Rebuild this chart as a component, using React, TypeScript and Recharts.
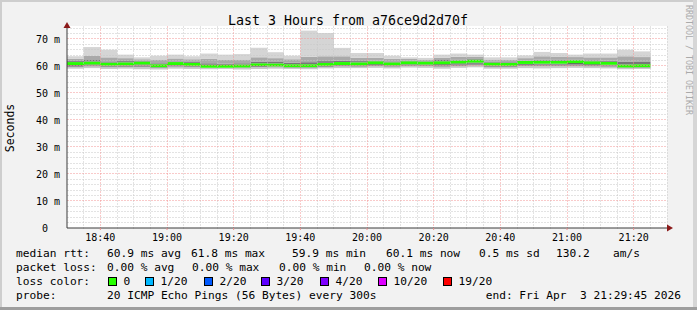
import React from 'react';
import { ComposedChart, Bar, XAxis, YAxis, CartesianGrid, ReferenceLine, ReferenceDot } from 'recharts';

// 5 minute slots from 18:30 to 21:25, the last one has no data yet
const slotTimes = [
  '18:30', '18:35', '18:40', '18:45', '18:50', '18:55', '19:00', '19:05', '19:10', '19:15', '19:20', '19:25',
  '19:30', '19:35', '19:40', '19:45', '19:50', '19:55', '20:00', '20:05', '20:10', '20:15', '20:20', '20:25',
  '20:30', '20:35', '20:40', '20:45', '20:50', '20:55', '21:00', '21:05', '21:10', '21:15', '21:20', '21:25',
];

// median rtt per slot (ms)
const medianRtt = [
  60.9, 61.1, 60.7, 60.8, 61.1, 60.1, 60.9, 60.6, 59.9, 59.9, 60.0, 60.5,
  60.4, 60.1, 60.1, 60.6, 60.9, 60.8, 61.2, 60.8, 61.2, 61.1, 61.2, 61.5,
  61.8, 60.7, 60.6, 61.3, 61.4, 61.4, 61.6, 61.2, 61.0, 60.0, 60.1, null,
];

// smoke: spread of the 20 pings in each slot (ms)
const smokeMin = [
  59.0, 59.2, 58.9, 59.0, 58.8, 58.7, 59.0, 58.9, 58.8, 58.9, 58.7, 58.9,
  59.0, 58.9, 58.8, 59.1, 59.2, 59.2, 59.3, 59.1, 59.4, 59.3, 59.0, 59.3,
  59.5, 59.0, 59.0, 59.2, 59.1, 59.2, 59.3, 59.2, 59.1, 58.8, 58.9, null,
];
const smokeLow = [
  59.6, 59.8, 59.5, 59.6, 59.6, 59.2, 59.7, 59.5, 59.2, 59.3, 59.2, 59.5,
  59.5, 59.3, 59.3, 59.6, 59.8, 59.7, 59.9, 59.7, 60.0, 59.9, 59.7, 59.9,
  60.2, 59.5, 59.5, 59.9, 59.9, 59.9, 60.0, 59.8, 59.7, 59.2, 59.3, null,
];
const smokeQ1 = [
  60.1, 60.3, 60.0, 60.1, 60.3, 59.5, 60.2, 59.9, 59.4, 59.4, 59.4, 59.8,
  59.8, 59.5, 59.5, 59.9, 60.2, 60.1, 60.4, 60.1, 60.5, 60.4, 60.4, 60.6,
  60.9, 60.0, 59.9, 60.5, 60.6, 60.6, 60.7, 60.4, 60.3, 59.4, 59.5, null,
];
const smokeQ3 = [
  61.8, 62.2, 61.7, 61.8, 61.9, 61.0, 61.7, 61.5, 61.0, 60.8, 61.0, 61.6,
  61.5, 61.2, 61.4, 61.8, 62.0, 61.8, 62.0, 61.7, 61.9, 61.8, 62.2, 62.4,
  62.6, 61.6, 61.4, 62.0, 62.3, 62.4, 62.4, 62.1, 62.0, 61.6, 61.5, null,
];
const smokeHigh = [
  62.7, 63.8, 63.2, 62.9, 62.5, 62.4, 62.8, 62.5, 62.6, 62.2, 62.4, 63.2,
  62.9, 62.5, 63.4, 63.6, 63.6, 63.0, 63.0, 62.7, 62.6, 62.4, 63.1, 63.4,
  63.4, 62.4, 62.2, 62.9, 63.6, 63.5, 63.3, 63.2, 63.2, 63.6, 63.3, null,
];
const smokeMax = [
  63.6, 67.0, 66.0, 64.2, 63.2, 63.8, 64.2, 63.6, 64.6, 64.2, 64.4, 66.7,
  65.1, 63.8, 73.1, 72.2, 66.7, 64.8, 64.8, 63.8, 63.2, 63.0, 64.2, 64.6,
  64.2, 63.2, 63.2, 63.9, 65.2, 64.8, 64.2, 64.6, 64.6, 66.0, 65.4, null,
];

const timeTickLabels = ['18:40', '19:00', '19:20', '19:40', '20:00', '20:20', '20:40', '21:00', '21:20'];
const yTicks = [0, 10, 20, 30, 40, 50, 60, 70];

const rttSummary = ['60.9 ms avg', '61.8 ms max', '59.9 ms min', '60.1 ms now', '0.5 ms sd', '130.2', 'am/s'];
const lossSummary = ['0.00 % avg', '0.00 % max', '0.00 % min', '0.00 % now'];
const lossLabels = ['0', '1/20', '2/20', '3/20', '4/20', '10/20', '19/20'];
const lossColors = ['#26ff00', '#00b8ff', '#0059ff', '#5e00ff', '#7e00ff', '#dd00ff', '#ff0000'];

const MONO = '"DejaVu Sans Mono", monospace';
const HALF_LINE = 0.55; // half thickness of the median line, in ms
const SLOT = 5; // minutes per slot
const SPAN = 180; // minutes shown

// minutes since the start of the graph (18:30)
const toMin = (t: string) => {
  const [h, m] = t.split(':').map(Number);
  return h * 60 + m - (18 * 60 + 30);
};
const timeTickMinutes = timeTickLabels.map(toMin);

const data = slotTimes.map((slot, i) => {
  const mid = toMin(slot) + SLOT / 2;
  const med = medianRtt[i];
  if (med == null) return { mid };
  const lv = [
    smokeMin[i] as number,
    smokeLow[i] as number,
    Math.min(smokeQ1[i] as number, med - HALF_LINE),
    med - HALF_LINE,
    med + HALF_LINE,
    Math.max(smokeQ3[i] as number, med + HALF_LINE),
    smokeHigh[i] as number,
    smokeMax[i] as number,
  ];
  for (let k = 1; k < lv.length; k++) lv[k] = Math.max(lv[k], lv[k - 1]);
  return {
    mid,
    base: lv[0],
    outerLo: lv[1] - lv[0],
    midLo: lv[2] - lv[1],
    innerLo: lv[3] - lv[2],
    median: lv[4] - lv[3],
    innerHi: lv[5] - lv[4],
    midHi: lv[6] - lv[5],
    outerHi: lv[7] - lv[6],
  };
});

const bands = [
  { key: 'base', fill: 'transparent' },
  { key: 'outerLo', fill: '#c8c8c8' },
  { key: 'midLo', fill: '#969696' },
  { key: 'innerLo', fill: '#4e4e4e' },
  { key: 'median', fill: lossColors[0] },
  { key: 'innerHi', fill: '#777777' },
  { key: 'midHi', fill: '#a9a9a9' },
  { key: 'outerHi', fill: '#d5d5d5' },
];

// grid positions
const minorX: number[] = [];
for (let m = 5; m <= SPAN; m += 5) if (!timeTickMinutes.includes(m)) minorX.push(m);
const minorY: number[] = [];
for (let v = 2; v <= 74; v += 2) if (v % 10 !== 0) minorY.push(v);
const majorY = yTicks.filter((v) => v > 0);

// dotted grid line snapped to whole pixels so it stays sharp
const snap = (v: number) => Math.floor(v) + 0.5;
const gridLine = (color: string) => (p: any) => (
  <line
    x1={snap(p.x1)}
    y1={snap(p.y1)}
    x2={snap(p.x2)}
    y2={snap(p.y2)}
    stroke={color}
    strokeWidth={1}
    strokeDasharray="1 2"
  />
);
const minorShape = gridLine('#c6c6c6');
const majorShape = gridLine('#f29494');

const upArrow = (p: any) => (
  <path d={`M${p.cx - 3.5},${p.cy + 4} L${p.cx},${p.cy - 2} L${p.cx + 3.5},${p.cy + 4} Z`} fill="#8b1a1a" />
);
const rightArrow = (p: any) => (
  <path d={`M${p.cx - 3},${p.cy - 3.5} L${p.cx + 3},${p.cy} L${p.cx - 3},${p.cy + 3.5} Z`} fill="#8b1a1a" />
);

const rttCols = [107, 191, 292, 386, 479, 556, 613];
const lossCols = [107, 192, 279, 364];
const boxCols = [108, 145, 204, 261, 320, 378, 443];

export default function App() {
  return (
    <div style={{ position: 'absolute', left: 0, top: 0, width: 697, height: 310, background: '#f2f2f2' }}>
      <ComposedChart
        width={697}
        height={310}
        data={data}
        margin={{ top: 26, right: 30, bottom: 62, left: 0 }}
        barCategoryGap={0}
        barGap={0}
      >
        <CartesianGrid horizontal={false} vertical={false} fill="#ffffff" />
        <XAxis
          dataKey="mid"
          type="number"
          domain={[0, SPAN]}
          allowDataOverflow
          ticks={timeTickMinutes}
          tickFormatter={(v: number) => timeTickLabels[timeTickMinutes.indexOf(v)] ?? ''}
          height={20}
          axisLine={{ stroke: '#3a3a3a' }}
          tickLine={{ stroke: '#e89090' }}
          tickSize={2}
          tickMargin={4}
          tick={{ fontSize: 10, fill: '#000', fontFamily: MONO }}
        />
        <YAxis
          type="number"
          domain={[0, 74.8]}
          allowDataOverflow
          ticks={yTicks}
          width={67}
          tickFormatter={(v: number) => (v === 0 ? '0\u00a0\u00a0' : `${v} m`)}
          axisLine={{ stroke: '#3a3a3a' }}
          tickLine={false}
          tickSize={3}
          tickMargin={4}
          tick={{ fontSize: 10, fill: '#000', fontFamily: MONO }}
        />
        {bands.map((b) => (
          <Bar key={b.key} dataKey={b.key} stackId="smoke" fill={b.fill} isAnimationActive={false} />
        ))}
        {minorX.map((m) => (
          <ReferenceLine key={`mx${m}`} x={m} shape={minorShape} />
        ))}
        {minorY.map((v) => (
          <ReferenceLine key={`my${v}`} y={v} shape={minorShape} />
        ))}
        {timeTickMinutes.map((m) => (
          <ReferenceLine key={`Mx${m}`} x={m} shape={majorShape} />
        ))}
        {majorY.map((v) => (
          <ReferenceLine key={`My${v}`} y={v} shape={majorShape} />
        ))}
        <ReferenceDot x={0} y={75.5} r={4} shape={upArrow} ifOverflow="visible" />
        <ReferenceDot x={180.9} y={0} r={4} shape={rightArrow} ifOverflow="visible" />
      </ComposedChart>

      <svg
        width={697}
        height={310}
        style={{ position: 'absolute', left: 0, top: 0, pointerEvents: 'none' }}
        fontFamily={MONO}
      >
        {/* frame */}
        <rect x={0} y={0} width={697} height={2} fill="#cecece" />
        <rect x={0} y={0} width={2} height={310} fill="#cecece" />
        <rect x={693} y={0} width={4} height={310} fill="#d6d6d6" />
        <rect x={0} y={307} width={697} height={3} fill="#9e9e9e" />

        <text x={348} y={25} fontSize={13.3} textAnchor="middle" fill="#000">
          Last 3 Hours from a76ce9d2d70f
        </text>
        <text x={14} y={128} fontSize={11.5} textAnchor="middle" fill="#000" transform="rotate(-90 14 128)">
          Seconds
        </text>
        <text x={686} y={5} fontSize={8.3} fill="#aaaaaa" transform="rotate(90 686 5)">
          RRDTOOL / TOBI OETIKER
        </text>

        <g fontSize={11.2} fill="#000">
          <text x={16} y={257}>median rtt:</text>
          {rttSummary.map((t, i) => (
            <text key={t} x={rttCols[i]} y={257}>{t}</text>
          ))}
          <text x={16} y={271}>packet loss:</text>
          {lossSummary.map((t, i) => (
            <text key={t} x={lossCols[i]} y={271}>{t}</text>
          ))}
          <text x={16} y={285}>loss color:</text>
          {lossLabels.map((t, i) => (
            <g key={t}>
              <rect x={boxCols[i] + 0.5} y={277.5} width={8} height={8} fill={lossColors[i]} stroke="#000" />
              <text x={boxCols[i] + 15.5} y={285}>{t}</text>
            </g>
          ))}
          <text x={16} y={299}>probe:</text>
          <text x={107} y={299}>20 ICMP Echo Pings (56 Bytes) every 300s</text>
          <text x={681} y={299} textAnchor="end" xmlSpace="preserve">end: Fri Apr  3 21:29:45 2026</text>
        </g>
      </svg>
    </div>
  );
}
